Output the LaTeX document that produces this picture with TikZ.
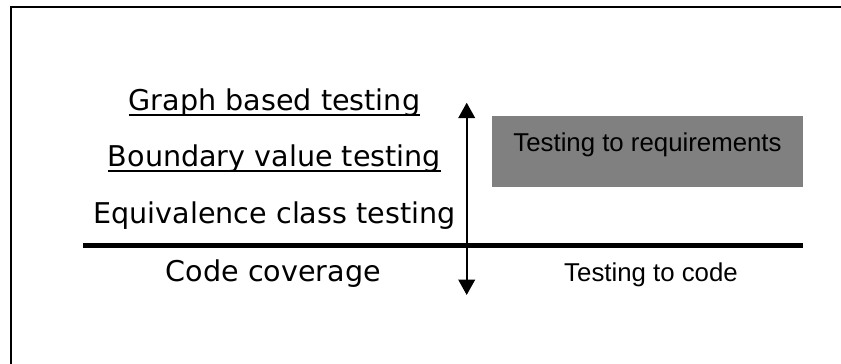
\documentclass[tikz,border=0pt]{standalone}
\usepackage{fontspec}
\newfontfamily\verd{DejaVu Sans}
\newfontfamily\arialf{Liberation Sans}
\usetikzlibrary{arrows.meta}
\definecolor{boxgray}{RGB}{128,128,128}
\begin{document}
\begin{tikzpicture}[x=1pt,y=-1pt,
  lefttext/.style={inner sep=0pt,anchor=base,font=\verd\fontsize{28.6}{34}\selectfont},
  righttext/.style={inner sep=0pt,anchor=base,font=\arialf\fontsize{25.8}{31}\selectfont},
  uline/.style={line width=2pt},
  framel/.style={line width=2pt},
  axis/.style={line width=5.5pt},
  vaxis/.style={line width=2pt,{Triangle[length=15.5pt,width=16.7pt]}-{Triangle[length=15.5pt,width=16.7pt]}},
  reqbox/.style={fill=boxgray,draw=none,inner sep=0pt,minimum width=311pt,minimum height=70.7pt,anchor=north west}
]
\useasboundingbox (0,0) rectangle (841,364);
% frame
\coordinate (fb) at (10.5,364);
\coordinate (fc) at (10.5,6.5);
\coordinate (fr) at (841,6.5);
\draw[framel] (fb) -- (fc) -- (fr);
% grey box
\node[reqbox] (req) at (491.7,116) {};
\node[righttext] (reqt) at (647.5,151.7) {Testing to requirements};
\node[righttext] (code) at (651,281.7) {Testing to code};
% left texts
\node[lefttext] (graph) at (274.5,110.5) {Graph based testing};
\node[lefttext] (bound) at (274.5,166.5) {Boundary value testing};
\node[lefttext] (equiv) at (274.5,223.5) {Equivalence class testing};
\node[lefttext] (cov) at (273.3,281.5) {Code coverage};
\draw[uline] ([yshift=-4pt]graph.base west) -- ([yshift=-4pt]graph.base east);
\draw[uline] ([yshift=-4pt]bound.base west) -- ([yshift=-4pt]bound.base east);
% axes
\coordinate (hl) at (83,245.5);
\coordinate (hr) at (803,245.5);
\draw[axis] (hl) -- (hr);
\coordinate (atop) at (466.7,102.7);
\coordinate (abot) at (466.7,295);
\draw[vaxis] (abot) -- (atop);
\end{tikzpicture}
\end{document}
